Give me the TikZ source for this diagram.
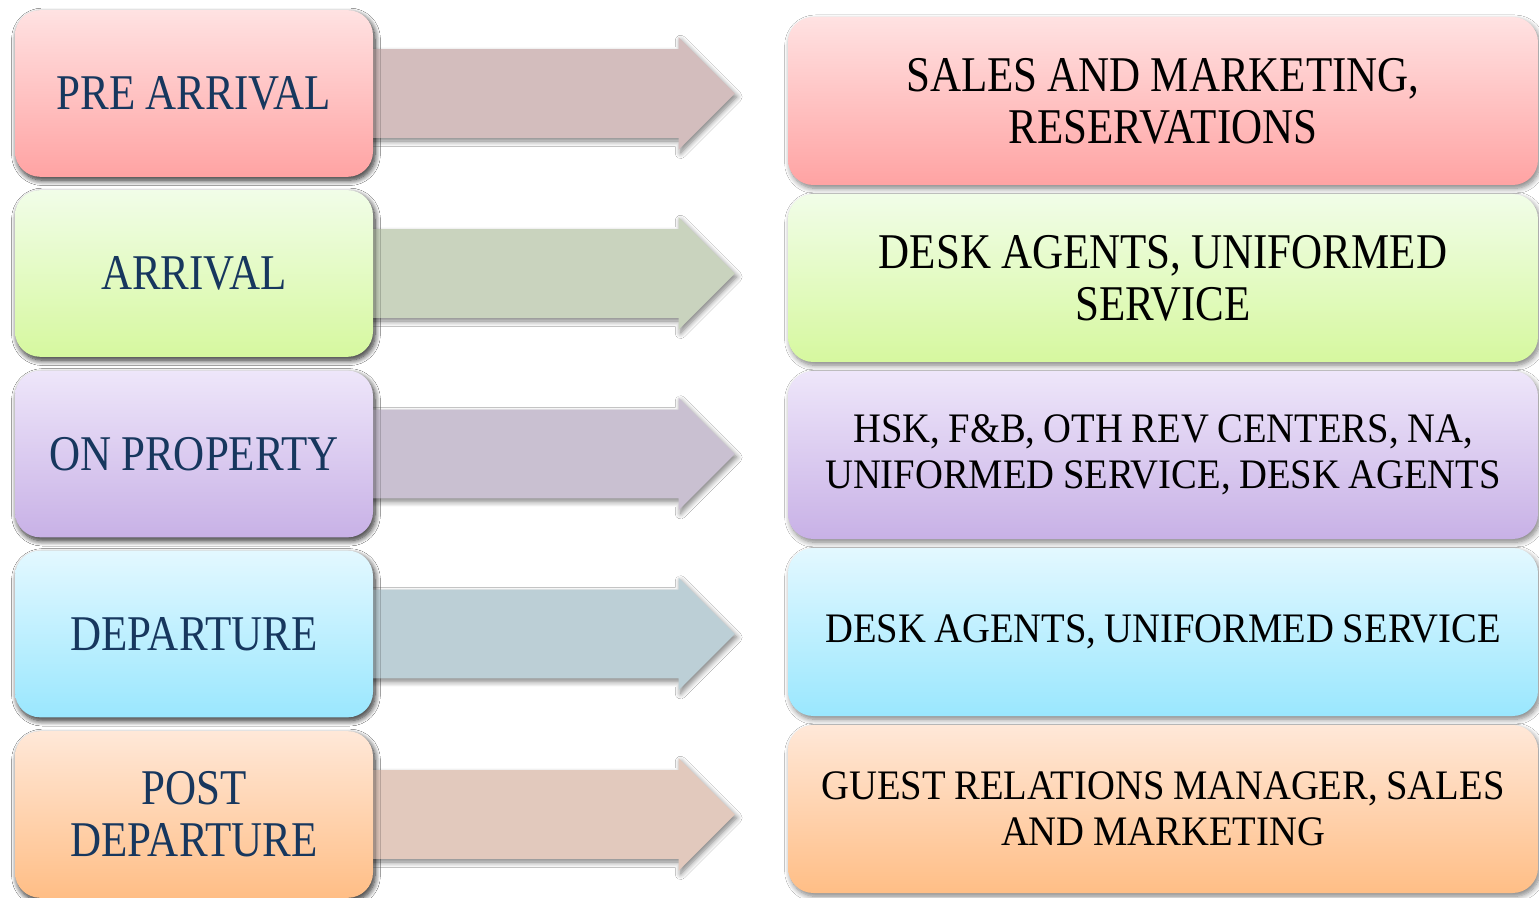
\documentclass[tikz,border=0pt]{standalone}
\usepackage{fontspec}
\setmainfont{Liberation Serif}[FakeStretch=0.86]
\newfontfamily\smallfont{Liberation Serif}[FakeStretch=0.92]
\usetikzlibrary{shapes.arrows,shadows.blur}
\newcommand\tsp{\spaceskip=0.2em\relax}
\definecolor{leftblue}{HTML}{17375E}
\definecolor{pinkT}{HTML}{FFE2E2}\definecolor{pinkB}{HTML}{FFA3A3}\definecolor{pinkA}{HTML}{D3BDBD}
\definecolor{greenT}{HTML}{F1FDE8}\definecolor{greenB}{HTML}{D6F89F}\definecolor{greenA}{HTML}{C9D3BE}
\definecolor{purpT}{HTML}{EEE6FA}\definecolor{purpB}{HTML}{C8B1E6}\definecolor{purpA}{HTML}{C9C0D1}
\definecolor{cyanT}{HTML}{E3F8FF}\definecolor{cyanB}{HTML}{9AE7FE}\definecolor{cyanA}{HTML}{BCCFD6}
\definecolor{orT}{HTML}{FFE8D8}\definecolor{orB}{HTML}{FFBE86}\definecolor{orA}{HTML}{E2C9BD}
\begin{document}
\begin{tikzpicture}[x=0.75pt,y=-0.75pt,
  shad/.style={blur shadow={shadow xshift=1.5pt,shadow yshift=-2.5pt,shadow blur steps=8,shadow opacity=50,shadow blur radius=4pt}},
  lbox/.style={rounded corners=19pt, minimum width=268.5pt, minimum height=125pt,
    text width=260pt, align=center, inner sep=0pt,
    font=\fontsize{37.5}{39}\selectfont, text=leftblue, shad},
  rbox/.style={rounded corners=19pt, minimum width=562.5pt, minimum height=126pt,
    text width=555pt, align=center, inner sep=0pt,
    font=\fontsize{37.5}{39}\selectfont, text=black, shad},
  rsmall/.style={font=\smallfont\fontsize{31.5}{34.5}\selectfont},
  bigarrow/.style={single arrow, single arrow head extend=9pt, minimum width=84pt,
    minimum height=288pt, inner xsep=0pt, inner ysep=33pt, anchor=tail, shad}]
\useasboundingbox (0,0) rectangle (1539,898);
\fill[white] (0,0) rectangle (1539,898);
% left boxes (placed first to name them)
\node[lbox] (l1) at (194,93.5) {};
\node[lbox] (l2) at (194,273.5) {};
\node[lbox] (l3) at (194,454) {};
\node[lbox] (l4) at (194,634) {};
\node[lbox] (l5) at (194,814.5) {};
% arrows
\foreach \i/\c in {1/pinkA,2/greenA,3/purpA,4/cyanA,5/orA}{
  \node[bigarrow, fill=\c] (a\i) at ([xshift=-17pt]l\i.east) {};
}
% left boxes drawn on top of arrows
\node[lbox, top color=pinkT, bottom color=pinkB] at (l1) {\tsp PRE ARRIVAL};
\node[lbox, top color=greenT, bottom color=greenB] at (l2) {\tsp ARRIVAL};
\node[lbox, top color=purpT, bottom color=purpB] at (l3) {\tsp ON PROPERTY};
\node[lbox, top color=cyanT, bottom color=cyanB] at (l4) {\tsp DEPARTURE};
\node[lbox, top color=orT, bottom color=orB] at (l5) {\tsp POST\\DEPARTURE};
% right boxes
\node[rbox, top color=pinkT, bottom color=pinkB] (r1) at (1163,101) {\tsp SALES AND MARKETING,\\RESERVATIONS};
\node[rbox, top color=greenT, bottom color=greenB] (r2) at (1163,278) {\tsp DESK AGENTS, UNIFORMED\\SERVICE};
\node[rbox, rsmall, top color=purpT, bottom color=purpB] (r3) at (1163,455) {\tsp HSK, F\&B, OTH REV CENTERS, NA,\\UNIFORMED SERVICE, DESK AGENTS};
\node[rbox, rsmall, top color=cyanT, bottom color=cyanB] (r4) at (1163,632) {\tsp DESK AGENTS, UNIFORMED SERVICE};
\node[rbox, rsmall, top color=orT, bottom color=orB] (r5) at (1163,809) {\tsp GUEST RELATIONS MANAGER, SALES\\AND MARKETING};
\end{tikzpicture}
\end{document}
